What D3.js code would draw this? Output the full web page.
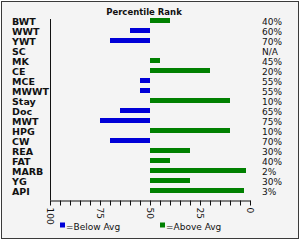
<!DOCTYPE html>
<html><head><meta charset="utf-8">
<script src="https://cdn.jsdelivr.net/npm/d3@7"></script>
<style>body{margin:0;background:#fff}svg{display:block}</style>
</head><body><svg id="c" width="300" height="240"></svg>
<script>
const categories = ["BWT","WWT","YWT","SC","MK","CE","MCE","MWWT","Stay","Doc","MWT","HPG","CW","REA","FAT","MARB","YG","API"];
const percentiles = [40,60,70,null,45,20,55,55,10,65,75,10,70,30,40,2,30,3];
const rankLabels = ["40%","60%","70%","N/A","45%","20%","55%","55%","10%","65%","75%","10%","70%","30%","40%","2%","30%","3%"];
const tickValues = d3.range(0,101,5);
const tickLabels = [0,25,50,75,100];
const legendItems = ["=Below Avg","=Above Avg"];
const avg = 50;

const svg = d3.select("#c");
const font = "DejaVu Sans, Verdana, sans-serif";
svg.append("rect").attr("x",1.5).attr("y",1.5).attr("width",297).attr("height",237)
  .attr("fill","#f4f4f4").attr("stroke","#3a3a3a").attr("stroke-width",1);

const x = d3.scaleLinear().domain([100,0]).range([50,250]);
const y = d3.scaleBand().domain(categories).range([15.5,195.5]).paddingInner(0.5).paddingOuter(0.25);
const blue = "#0000d8", green = "#008000";

svg.append("text").attr("x",144).attr("y",15).attr("text-anchor","middle")
  .attr("font-family",font).attr("font-weight","bold").attr("font-size","8.5px").attr("fill","#111")
  .text("Percentile Rank");

// bars
const data = categories.map((c,i)=>({c, v:percentiles[i], l:rankLabels[i]}));
svg.append("g").selectAll("rect").data(data.filter(d=>d.v!==null)).join("rect")
  .attr("x",d=>Math.min(x(d.v),x(avg)))
  .attr("width",d=>Math.abs(x(d.v)-x(avg)))
  .attr("y",d=>y(d.c)+y.bandwidth()/2-2.5)
  .attr("height",5)
  .attr("fill",d=>d.v>avg?blue:green);

// category labels
svg.append("g").selectAll("text").data(data).join("text")
  .attr("x",12).attr("y",(d,i)=>y(d.c)+y.bandwidth()/2+4.3)
  .attr("font-family",font).attr("font-weight","bold").attr("font-size","9.5px").attr("fill","#111")
  .text(d=>d.c);

// rank labels
svg.append("g").selectAll("text").data(data).join("text")
  .attr("x",262).attr("y",d=>y(d.c)+y.bandwidth()/2+4.3)
  .attr("font-family",font).attr("font-size","9px").attr("fill","#111")
  .text(d=>d.l);

// y axis line
svg.append("line").attr("x1",50.5).attr("x2",50.5).attr("y1",19).attr("y2",200.5)
  .attr("stroke","#111").attr("stroke-width",1);

// x axis
const ax = svg.append("g").attr("transform","translate(0,200.5)")
  .call(d3.axisBottom(x).tickValues(tickValues).tickSize(5).tickSizeOuter(0)
    .tickFormat(d=>tickLabels.includes(d)?String(d):""));
ax.select(".domain").attr("stroke","#111");
ax.selectAll(".tick line").attr("stroke","#111");
ax.selectAll(".tick text")
  .attr("font-family",font).attr("font-size","9px").attr("fill","#111")
  .attr("text-anchor","start").attr("transform","rotate(90)")
  .attr("x",7).attr("y",0).attr("dy","0.35em");

// legend
const lg = svg.append("g");
[[60,blue,legendItems[0]],[160,green,legendItems[1]]].forEach(([lx,col,t])=>{
  lg.append("rect").attr("x",lx).attr("y",222.5).attr("width",5).attr("height",5).attr("fill",col);
  lg.append("text").attr("x",lx+6).attr("y",230).attr("font-family",font).attr("font-size","9px")
    .attr("fill","#111").text(t);
});
</script></body></html>
